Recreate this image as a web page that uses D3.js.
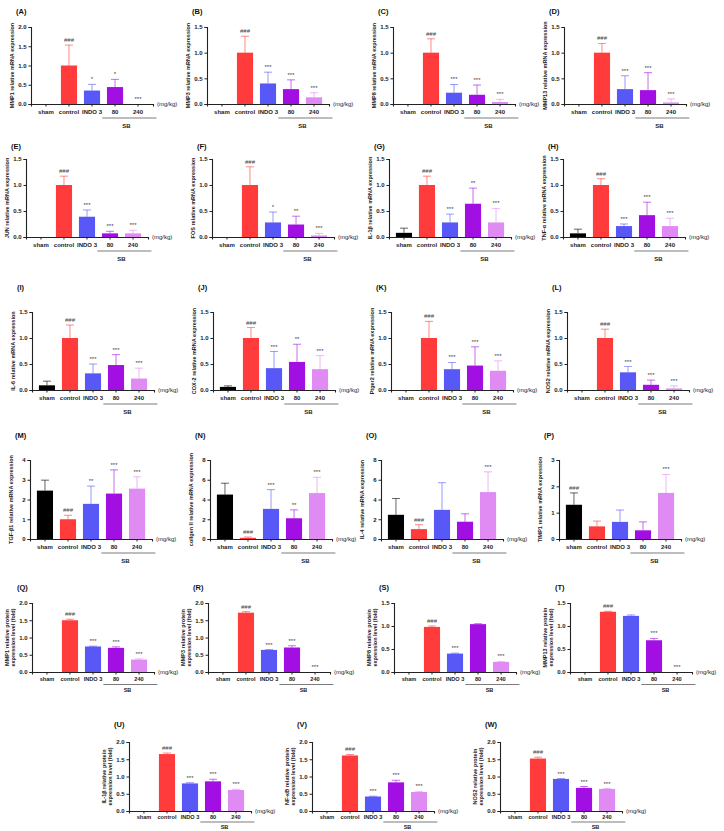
<!DOCTYPE html>
<html><head><meta charset="utf-8">
<script src="https://cdn.jsdelivr.net/npm/d3@7"></script>
<style>body{margin:0;background:#fff}svg{display:block}text{font-family:"Liberation Sans",Arial,sans-serif}</style>
</head><body><svg id="c" width="724" height="831"></svg>
<script>
// ---------- data ----------
const categories = ["sham","control","INDO 3","80","240"];
const barColors = ["#000000","#ff3b3b","#5858f6","#a20fe2","#e08af3"];
const panelIds = ["A","B","C","D","E","F","G","H","I","J","K","L","M","N","O","P","Q","R","S","T","U","V","W"];
const yTitles = [
 "MMP1 relative mRNA expression","MMP3 relative mRNA expression","MMP8 relative mRNA expression","MMP13 relative mRNA expression",
 "JUN relative mRNA expression","FOS relative mRNA expression","IL-1β relative mRNA expression","TNF-α relative mRNA expression",
 "IL-6 relative mRNA expression","COX-2 relative mRNA expression","Ptger2 relative mRNA expression","NOS2 relative mRNA expression",
 "TGF-β1 relative mRNA expression","collgen II relative mRNA expression","IL-4 relative mRNA expression","TIMP1 relative mRNA expression",
 "MMP1 relative protein|expression level (fold)","MMP3 relative protein|expression level (fold)","MMP8 relative protein|expression level (fold)","MMP13 relative protein|expression level (fold)",
 "IL-1β relative protein|expression level (fold)","NF-κB relative protein|expression level (fold)","NOS2 relative protein|expression level (fold)"];
const yMaxes = [2,1.5,1.5,1.5, 1.5,1.5,1.5,1.5, 1.5,1.5,1.5,1.5, 4,8,8,3, 2,2,1.5,1.5, 2,2,2];
const yTickSteps = [0.5,0.5,0.5,0.5, 0.5,0.5,0.5,0.5, 0.5,0.5,0.5,0.5, 1,2,2,1, 0.5,0.5,0.5,0.5, 0.5,0.5,0.5];
const means = [
 [0,1,0.35,0.44,0],[0,1,0.40,0.29,0.13],[0,1,0.22,0.18,0.04],[0,1,0.29,0.27,0.03],
 [0,1,0.39,0.07,0.07],[0,1,0.28,0.24,0.03],[0.08,1,0.28,0.64,0.28],[0.07,1,0.21,0.42,0.21],
 [0.09,1,0.32,0.48,0.22],[0.06,1,0.42,0.54,0.40],[0,1,0.40,0.47,0.37],[0,1,0.34,0.10,0.03],
 [2.45,1.0,1.78,2.30,2.55],[4.5,0.12,3.05,2.1,4.65],[2.45,1.0,2.95,1.75,4.75],[1.3,0.48,0.65,0.33,1.75],
 [0,1.50,0.74,0.70,0.36],[0,1.72,0.64,0.71,0],[0,0.98,0.40,1.04,0.22],[0,1.31,1.22,0.69,0],
 [0,1.65,0.80,0.86,0.61],[0,1.61,0.42,0.83,0.55],[0,1.52,0.93,0.67,0.64]];
const errTops = [
 [0,1.53,0.51,0.64,0],[0,1.32,0.62,0.47,0.22],[0,1.27,0.38,0.37,0.09],[0,1.18,0.55,0.61,0.10],
 [0,1.17,0.52,0.11,0.13],[0,1.35,0.48,0.40,0.07],[0.17,1.17,0.44,0.94,0.55],[0.15,1.12,0.25,0.67,0.36],
 [0.17,1.25,0.50,0.68,0.42],[0.08,1.20,0.74,0.88,0.66],[0,1.32,0.53,0.83,0.56],[0,1.17,0.45,0.19,0.08],
 [2.98,1.2,2.68,3.5,3.15],[5.65,0.2,5.0,2.95,6.25],[4.1,1.45,5.7,2.55,6.8],[1.75,0.68,1.1,0.65,2.45],
 [0,1.53,0.75,0.73,0.38],[0,1.75,0.65,0.76,0],[0,1.0,0.41,1.05,0.23],[0,1.32,1.24,0.73,0],
 [0,1.68,0.82,0.92,0.63],[0,1.64,0.43,0.89,0.57],[0,1.56,0.94,0.71,0.65]];
const marks = [
 ["","###","*","*","***"],["","###","***","***","***"],["","###","***","***","***"],["","###","***","***","***"],
 ["","###","***","***","***"],["","###","*","**","***"],["","###","***","**","***"],["","###","***","***","***"],
 ["","###","***","***","***"],["","###","***","**","***"],["","###","***","***","***"],["","###","***","***","***"],
 ["","###","**","***","***"],["","###","***","**","***"],["","###","","","***"],["###","","","","***"],
 ["","###","***","***","***"],["","###","***","***","***"],["","###","***","","***"],["","###","","***","***"],
 ["","###","***","***","***"],["","###","***","***","***"],["","###","***","***","***"]];

// ---------- layout ----------
const rows = [
 {top:27,bot:104,lab:10,o1:10,o2:14,o3:24,fs:6},
 {top:159,bot:237,lab:145,o1:10,o2:14,o3:24,fs:6},
 {top:312,bot:390,lab:286,o1:10,o2:14,o3:24,fs:6},
 {top:460,bot:539,lab:434,o1:10,o2:14,o3:24,fs:6},
 {top:603,bot:672,lab:586,o1:9,o2:12.5,o3:19.5,fs:5.6},
 {top:742,bot:811,lab:723,o1:8,o2:11,o3:17.5,fs:5.6}];
const colX = [[31,207,393,564],[26,212,389,563],[32,213,391,567],[30,210,381,559],[32,208,394,570],[129,312,500]];
const W = 122;

const svg = d3.select("#c");
panelIds.forEach((id,i)=>{
  const r = i<20 ? Math.floor(i/4) : 5;
  const c = i<20 ? i%4 : i-20;
  const row = rows[r], x0 = colX[r][c];
  const g = svg.append("g");
  const x = d3.scaleBand().domain(categories).range([x0, x0+W]).padding(0.3);
  const y = d3.scaleLinear().domain([0,yMaxes[i]]).range([row.bot,row.top]);
  const step = yTickSteps[i];
  const ticks = d3.range(0, yMaxes[i]+step/2, step);
  const fmt = step<1 ? d3.format(".1f") : d3.format("d");
  g.append("text").attr("x",x0-15).attr("y",row.lab+4).attr("font-size",7.5).attr("font-weight","bold").attr("fill","#111").text("("+id+")");
  categories.forEach((cat,k)=>{
    const v = means[i][k], e = errTops[i][k];
    const cx = x(cat)+x.bandwidth()/2;
    if (v>0) g.append("rect").attr("x",x(cat)).attr("width",x.bandwidth()).attr("y",y(v)).attr("height",y(0)-y(v)).attr("fill",barColors[k]);
    if (e>v) {
      g.append("line").attr("x1",cx).attr("x2",cx).attr("y1",y(v)).attr("y2",y(e)).attr("stroke",barColors[k]).attr("stroke-width",0.8).attr("opacity",0.75);
      g.append("line").attr("x1",cx-4).attr("x2",cx+4).attr("y1",y(e)).attr("y2",y(e)).attr("stroke",barColors[k]).attr("stroke-width",0.8).attr("opacity",0.75);
    }
    if (marks[i][k]) {
      const top = Math.max(e,v);
      g.append("text").attr("x",cx).attr("y",y(top)-3).attr("text-anchor","middle").attr("font-size",6).attr("fill","#444").text(marks[i][k]);
    }
  });
  const ya = d3.axisLeft(y).tickValues(ticks).tickFormat(fmt).tickSize(2.5).tickPadding(2);
  const yg = g.append("g").attr("transform",`translate(${x0},0)`).call(ya);
  const xa = d3.axisBottom(x).tickSize(2.5).tickFormat("");
  const xg = g.append("g").attr("transform",`translate(0,${row.bot})`).call(xa);
  [yg,xg].forEach(a=>{a.select(".domain").attr("stroke","#222").attr("stroke-width",1.1);a.selectAll(".tick line").attr("stroke","#222").attr("stroke-width",1);});
  yg.selectAll(".tick text").attr("font-size",6).attr("font-weight","bold").attr("fill","#222").attr("font-family","Liberation Sans, Arial, sans-serif");
  categories.forEach(cat=>{
    g.append("text").attr("x",x(cat)+x.bandwidth()/2).attr("y",row.bot+row.o1).attr("text-anchor","middle").attr("font-size",row.fs).attr("font-weight","bold").attr("fill","#222").text(cat);
  });
  g.append("text").attr("x",x0+W+4).attr("y",row.bot+2).attr("font-size",6).attr("fill","#222").text("(mg/kg)");
  const sx0 = x("80")-x.step()*0.2, sx1 = x("240")+x.bandwidth()+x.step()*0.45;
  g.append("line").attr("x1",sx0).attr("x2",sx1).attr("y1",row.bot+row.o2).attr("y2",row.bot+row.o2).attr("stroke","#444").attr("stroke-width",0.7);
  g.append("text").attr("x",(x("80")+x("240")+x.bandwidth())/2).attr("y",row.bot+row.o3).attr("text-anchor","middle").attr("font-size",row.fs).attr("font-weight","bold").attr("fill","#222").text("SB");
  const lines = yTitles[i].split("|");
  const cy = (row.top+row.bot)/2;
  lines.forEach((ln,li)=>{
    const tx = x0 - 17 - (lines.length-1-li)*6.5;
    g.append("text").attr("transform",`translate(${tx},${cy}) rotate(-90)`).attr("text-anchor","middle").attr("font-size",5.5).attr("font-weight","bold").attr("fill","#222").text(ln);
  });
});
</script></body></html>
